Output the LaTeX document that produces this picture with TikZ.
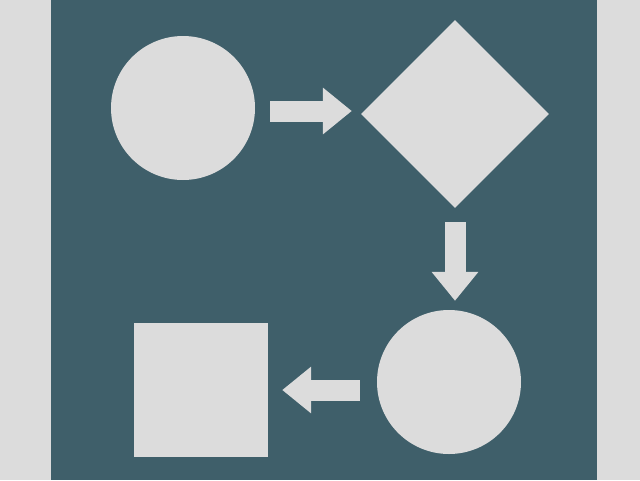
\documentclass[tikz,border=0pt]{standalone}
\usetikzlibrary{arrows.meta, positioning, shapes.geometric}

\definecolor{panelteal}{RGB}{63,95,106}
\definecolor{lightgrey}{RGB}{220,220,220}

\begin{document}
\begin{tikzpicture}[
		x=1pt, y=-1pt,
		every node/.style={fill=lightgrey, draw=none, inner sep=0pt},
		blob/.style={circle, minimum size=144pt},
		arrow/.style={-{Triangle[length=29pt, width=45pt]}, line width=21pt, draw=lightgrey}
	]
	
		% Background
		\fill[lightgrey] (0,0) rectangle (640,480);
		\fill[panelteal] (51,0) rectangle (597,480);
		\useasboundingbox (0,0) rectangle (640,480);
		
		% Nodes
		\node[blob] (start) at (183,108) {};
		\node[diamond, minimum width=188pt, minimum height=188pt] (decide) at (455,114) {};
		\node[blob] (process) at (449,382) {};
		\node[rectangle, minimum size=134pt] (finish) at (201,390) {};
		
		% Arrows
		\draw[arrow, shorten <=15pt, shorten >=9pt] ([yshift=-3pt]start.east) -- ([yshift=-3pt]start.east -| decide.west);
		\draw[arrow, shorten <=14pt, shorten >=9pt] (decide.south) -- (decide.south |- process.north);
		\draw[arrow, shorten <=17pt, shorten >=14pt] (process.west |- finish.east) -- (finish.east);
		
	\end{tikzpicture}
\end{document}
